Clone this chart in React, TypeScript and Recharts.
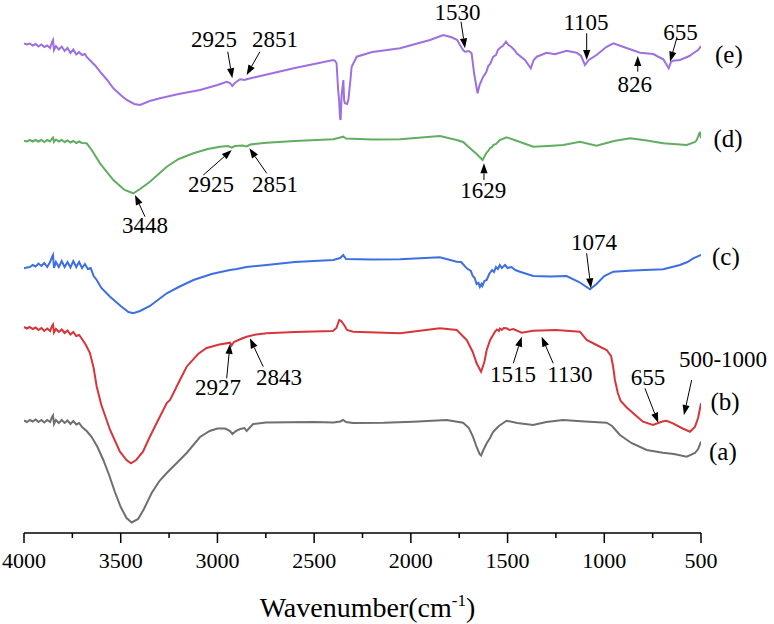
import React from "react";
import { LineChart, Line, XAxis, YAxis, ReferenceDot } from "recharts";

type P = { wn: number; h: number };
const mk = (arr: number[][]): P[] => arr.map(([wn, h]) => ({ wn, h }));

const ticks = [4000, 3750, 3500, 3250, 3000, 2750, 2500, 2250, 2000, 1750, 1500, 1250, 1000, 750, 500];

const seriesA = mk([
  [4000, 112.5], [3985, 111], [3970, 113], [3955, 111.5], [3940, 113.5], [3925, 111], [3910, 113], [3895, 110.5],
  [3880, 113], [3865, 111], [3855, 116], [3850, 117.5], [3845, 109], [3835, 113], [3820, 110], [3805, 113], [3790, 110],
  [3775, 112.5], [3760, 109], [3745, 112], [3730, 108.5], [3715, 110], [3700, 106], [3676, 102], [3650, 96],
  [3620, 86], [3590, 73], [3560, 58], [3530, 41], [3500, 26], [3470, 15], [3443, 10.5], [3410, 14], [3380, 24],
  [3340, 40], [3300, 52], [3262, 60], [3200, 72], [3159, 80], [3090, 96], [3040, 102], [3000, 104.5], [2960, 104.5],
  [2935, 102], [2922, 99], [2905, 102], [2883, 104], [2860, 105], [2849, 102], [2835, 105], [2815, 109], [2750, 110.5],
  [2500, 111], [2400, 110.5], [2365, 111.5], [2350, 113], [2335, 111], [2300, 110], [2140, 110.3], [1988, 111.3],
  [1815, 113], [1730, 110.3], [1700, 105], [1679, 96.3], [1660, 86], [1645, 79], [1637, 77.5], [1625, 83], [1610, 89],
  [1591, 95], [1575, 101], [1560, 104], [1545, 107], [1530, 109], [1515, 111], [1505, 112.3], [1450, 110], [1368, 108],
  [1300, 111], [1213, 113], [1100, 111.5],
  [988, 110.3], [960, 107], [919, 98], [860, 90], [781, 83], [697, 80.3], [640, 79], [574, 76.3], [531, 80], [515, 84],
  [500, 91.3],
]);

const seriesB = mk([
  [4000, 206], [3985, 204.5], [3970, 206], [3955, 204], [3940, 205.5], [3925, 203], [3910, 205], [3895, 202],
  [3880, 204.5], [3865, 202], [3855, 207], [3850, 208.5], [3845, 200.5], [3835, 204], [3820, 201], [3805, 203.5],
  [3790, 200], [3775, 202.5], [3760, 198.5], [3745, 201], [3730, 197], [3715, 198], [3700, 194], [3680, 188],
  [3659, 180], [3640, 165], [3624, 146.3],
  [3600, 128], [3555, 103], [3504, 81.3], [3470, 73], [3447, 69.7], [3420, 73], [3385, 81.3], [3350, 96], [3314, 110],
  [3262, 130], [3245, 133], [3194, 153], [3159, 166.3], [3100, 179], [3056, 185], [2990, 188.5], [2935, 190.3],
  [2927, 187.5], [2915, 191], [2880, 194], [2849, 196.3], [2800, 198.5], [2745, 199.7], [2600, 201], [2403, 202],
  [2385, 205], [2370, 213], [2360, 212], [2345, 208], [2330, 203], [2299, 201.3], [2056, 199.7], [1850, 204.7],
  [1763, 203], [1711, 193], [1680, 181], [1660, 169.7], [1637, 161.3], [1620, 171], [1608, 183], [1590, 193],
  [1575, 198], [1565, 201.3], [1555, 203.5], [1545, 202], [1540, 204.5], [1530, 203], [1520, 205], [1505, 204.7],
  [1490, 203], [1470, 204], [1427, 200.3], [1368, 202.3], [1250, 203], [1126, 201.3], [1091, 193],
  [1040, 188], [988, 183], [965, 177], [954, 166], [945, 153], [930, 140], [915, 132], [884, 125.5], [840, 118],
  [800, 111.3], [748, 108], [700, 111.5], [678, 112.3], [645, 109.7], [600, 105], [557, 101.3], [531, 106.3],
  [515, 115], [500, 129.7],
]);

const seriesC = mk([
  [4000, 264.7], [3985, 265.5], [3970, 266], [3955, 268], [3940, 266.5], [3925, 269.5], [3910, 267], [3895, 270],
  [3880, 266], [3865, 271], [3855, 276], [3850, 278], [3845, 265], [3835, 271], [3820, 266], [3805, 272], [3790, 266],
  [3775, 271], [3760, 265.5], [3745, 272], [3730, 266], [3715, 271], [3700, 265], [3685, 269], [3670, 264],
  [3655, 265], [3640, 257], [3624, 253], [3600, 245], [3555, 236.3], [3500, 227], [3460, 221], [3435, 219.7],
  [3400, 222], [3349, 227], [3262, 239.7], [3200, 246], [3124, 253], [3030, 259], [2935, 263], [2900, 264],
  [2850, 266], [2745, 268], [2600, 271], [2401, 273], [2365, 275], [2350, 278], [2335, 274], [2200, 273.5],
  [2056, 273.7], [1850, 275.7], [1763, 271.3], [1740, 271], [1711, 264.7], [1690, 262], [1680, 257], [1670, 255],
  [1660, 249], [1650, 250], [1643, 246], [1635, 249], [1630, 247], [1620, 252], [1608, 253], [1595, 259],
  [1580, 263], [1570, 261], [1560, 266], [1550, 264], [1540, 268], [1530, 265], [1513, 268], [1500, 265],
  [1480, 266], [1460, 263], [1436, 261.3], [1367, 257], [1280, 256.5], [1195, 257], [1130, 251], [1074, 243.7],
  [1040, 249], [1000, 257], [953, 261.3], [850, 262.5], [695, 263.7], [609, 268], [570, 271], [540, 274.7], [500, 278],
]);

const seriesD = mk([
  [4000, 392.3], [3985, 391.5], [3970, 393], [3955, 391.5], [3940, 393], [3925, 391.5], [3910, 393], [3895, 391],
  [3880, 393], [3865, 391.5], [3855, 394.5], [3850, 395.5], [3845, 391], [3835, 393.5], [3820, 391.5], [3805, 393],
  [3790, 391], [3775, 392.5], [3760, 390.5], [3745, 392], [3730, 390], [3715, 391.5], [3700, 390], [3676, 389.7],
  [3650, 383], [3607, 369.7], [3538, 353], [3480, 343], [3435, 339.7], [3400, 344], [3349, 351.3], [3262, 366.3],
  [3200, 374], [3124, 379.7], [3050, 384], [2987, 386.3], [2945, 387], [2926, 385.3], [2910, 387], [2870, 387.5],
  [2849, 386.5], [2830, 388.5], [2745, 390.3], [2600, 392], [2401, 393.7], [2365, 395.5], [2350, 396.3], [2335, 394.5],
  [2200, 393.5], [2056, 393.7], [1850, 397], [1763, 393], [1730, 391], [1694, 384.7], [1660, 379], [1629, 373],
  [1610, 380], [1600, 382], [1590, 385], [1580, 386], [1574, 388], [1560, 389], [1540, 393], [1505, 395.7],
  [1450, 392], [1367, 386.3], [1290, 387], [1212, 388], [1126, 391.3], [1040, 387.3], [950, 392], [867, 394.7],
  [780, 392.5], [695, 389.7], [574, 388], [530, 391], [522, 393], [508, 400], [505, 400.3], [500, 394.7],
]);

const seriesE = mk([
  [4000, 489.7], [3985, 488.5], [3970, 489.5], [3955, 487.5], [3940, 489], [3925, 486.5], [3910, 488.5], [3895, 486],
  [3880, 487.5], [3865, 485], [3855, 491], [3850, 493], [3845, 483], [3835, 487], [3820, 483.5], [3805, 486.5],
  [3790, 482], [3775, 485], [3760, 480], [3745, 483.5], [3730, 478.5], [3715, 481], [3700, 478], [3685, 479],
  [3676, 476], [3650, 471], [3630, 467], [3607, 461.3], [3570, 453], [3538, 444.7], [3500, 438], [3469, 433],
  [3430, 429], [3400, 428], [3350, 432], [3297, 434.7], [3200, 439], [3090, 443], [3000, 448], [2952, 451.3],
  [2935, 450], [2923, 447], [2910, 450], [2883, 453.7], [2860, 453], [2849, 453.7], [2800, 456], [2600, 465],
  [2401, 473], [2392, 472], [2384, 469.7], [2376, 443], [2371, 433], [2366, 415], [2363, 413], [2358, 438], [2349, 453],
  [2345, 433], [2341, 429.7], [2330, 429], [2323, 433], [2315, 448], [2306, 466.3], [2280, 476.3], [2200, 481],
  [2160, 482], [2056, 484.7], [1901, 493], [1832, 498], [1789, 495.7], [1760, 493], [1746, 488], [1730, 483],
  [1720, 481.3], [1700, 482], [1686, 479.7], [1673, 459.7], [1660, 445], [1655, 439.7], [1645, 448], [1626, 456.3],
  [1610, 461], [1600, 467], [1590, 469], [1574, 476.3], [1560, 478], [1550, 483], [1540, 485], [1525, 487],
  [1508, 491.3], [1495, 488], [1480, 486], [1465, 483], [1453, 479.7], [1410, 473], [1380, 464.7],
  [1365, 473], [1349, 476.3], [1298, 480.3], [1255, 478.7], [1195, 482.3], [1143, 480.3], [1120, 477], [1100, 468],
  [1080, 473], [1040, 478], [990, 486], [953, 489.7], [900, 486], [815, 480.3], [747, 479], [695, 473.7], [667, 464.7],
  [655, 471], [643, 472.3], [609, 473], [560, 477], [540, 479.7], [515, 483], [500, 487],
]);

const seriesNames = ["(a)", "(b)", "(c)", "(d)", "(e)"];
const seriesLabelY = [73, 123, 268, 386, 470];
const seriesData = [seriesA, seriesB, seriesC, seriesD, seriesE];
const seriesColors = ["#6f6f6f", "#d8353b", "#3d6fe2", "#62ad62", "#9d70e2"];

const annoTexts = ["2925", "2851", "1530", "1105", "826", "655", "2925", "2851", "3448", "1629", "1074", "2927", "2843", "1515", "1130", "655", "500-1000"];
const annoWn = [2923, 2849, 1720, 1091, 827, 660, 2926, 2835, 3426, 1622, 1069, 2935, 2832, 1427, 1324, 721, 588];
const annoH = [454.7, 458, 484.7, 473, 477, 471.3, 383, 384.7, 338, 369.7, 244.7, 189, 194.7, 196.3, 196.3, 110.3, 118];
// pixel offsets: tail of arrow, and label anchor (middle, baseline)
const annoLayout = [
  [-4.6, -26.6, -18.3, -31.6],
  [13.3, -23.3, 28.3, -28.3],
  [-4, -26.6, -7.5, -28.3],
  [0, -26.7, -0.7, -30],
  [0, 15.7, -3, 35.7],
  [6.7, -23.4, 10.5, -21.7],
  [-28.4, 25, -20.7, 41.7],
  [17.4, 25, 25.7, 43.4],
  [10, 21.7, 10, 38.3],
  [0, 16.7, -0.7, 35],
  [-4.3, -35, 3, -38.3],
  [-3.3, 34.3, -12, 51],
  [13.3, 28.4, 29, 46.7],
  [-8.4, 26.6, -8.7, 45],
  [11.6, 26.6, 28.3, 45],
  [-13.3, -34.4, -10.3, -37.7],
  [7.7, -35, 39, -48.3],
];

const FONT = "Liberation Serif, DejaVu Serif, serif";
const txt = (size: number) => ({ fontFamily: FONT, fontSize: size });

const Arrow = (props: any) => {
  const { cx, cy, idx } = props;
  const [tx, ty, lx, ly] = annoLayout[idx];
  const x0 = cx + tx;
  const y0 = cy + ty;
  const dx = cx - x0;
  const dy = cy - y0;
  const len = Math.sqrt(dx * dx + dy * dy) || 1;
  const ux = dx / len;
  const uy = dy / len;
  const headL = 10;
  const headW = 3.6;
  const bx = cx - ux * headL;
  const by = cy - uy * headL;
  const px = -uy;
  const py = ux;
  return (
    <g>
      <line x1={x0} y1={y0} x2={bx} y2={by} stroke="#000" strokeWidth={1} />
      <polygon
        points={`${cx},${cy} ${bx + px * headW},${by + py * headW} ${bx - px * headW},${by - py * headW}`}
        fill="#000"
      />
      <text x={cx + lx} y={cy + ly} textAnchor="middle" style={txt(23)} fill="#000">
        {annoTexts[idx]}
      </text>
    </g>
  );
};

const SeriesLabel = (props: any) => {
  const { cx, cy, idx } = props;
  return (
    <text x={cx + 8 + idx * 1.5} y={cy} style={txt(25)} fill="#000">
      {seriesNames[idx]}
    </text>
  );
};

const Tick = (props: any) => {
  const { x, y, payload } = props;
  const v = payload.value as number;
  const major = v % 500 === 0;
  return (
    <g>
      <line x1={x} x2={x} y1={y} y2={y + (major ? 10 : 5)} stroke="#000" strokeWidth={1.5} />
      {major && (
        <text x={x} y={y + 35} textAnchor="middle" style={txt(22)} fill="#000">
          {v}
        </text>
      )}
    </g>
  );
};

const AxisTitle = (props: any) => {
  const vb = props.viewBox || { x: 24, y: 533, width: 677 };
  return (
    <text x={vb.x + vb.width / 2 + 5} y={vb.y + 84} textAnchor="middle" style={txt(28)} fill="#000">
      <tspan>Wavenumber(cm</tspan>
      <tspan dy={-11} style={{ fontSize: 17 }}>-1</tspan>
      <tspan dy={11}>)</tspan>
    </text>
  );
};

export default function App() {
  return (
    <div style={{ position: "absolute", left: 0, top: 0, width: 774, height: 624, background: "#fff" }}>
      <LineChart width={774} height={624} margin={{ top: 0, right: 73, left: 24, bottom: 0 }}>
        <XAxis
          type="number"
          dataKey="wn"
          domain={[500, 4000]}
          reversed
          ticks={ticks}
          interval={0}
          tickSize={0}
          tickMargin={0}
          tickLine={false}
          tick={<Tick />}
          axisLine={{ stroke: "#000", strokeWidth: 1.5 }}
          height={91}
          allowDataOverflow
          label={{ content: <AxisTitle /> }}
        />
        <YAxis type="number" domain={[0, 533]} hide allowDataOverflow />
        {seriesData.map((d, i) => (
          <Line
            key={seriesNames[i]}
            data={d}
            dataKey="h"
            type="linear"
            stroke={seriesColors[i]}
            strokeWidth={2}
            dot={false}
            activeDot={false}
            isAnimationActive={false}
          />
        ))}
        {annoTexts.map((t, i) => (
          <ReferenceDot
            key={"a" + i}
            x={annoWn[i]}
            y={annoH[i]}
            ifOverflow="visible"
            shape={(p: any) => <Arrow {...p} idx={i} />}
          />
        ))}
        {seriesNames.map((n, i) => (
          <ReferenceDot
            key={"s" + i}
            x={500}
            y={seriesLabelY[i]}
            ifOverflow="visible"
            shape={(p: any) => <SeriesLabel {...p} idx={i} />}
          />
        ))}
      </LineChart>
    </div>
  );
}
